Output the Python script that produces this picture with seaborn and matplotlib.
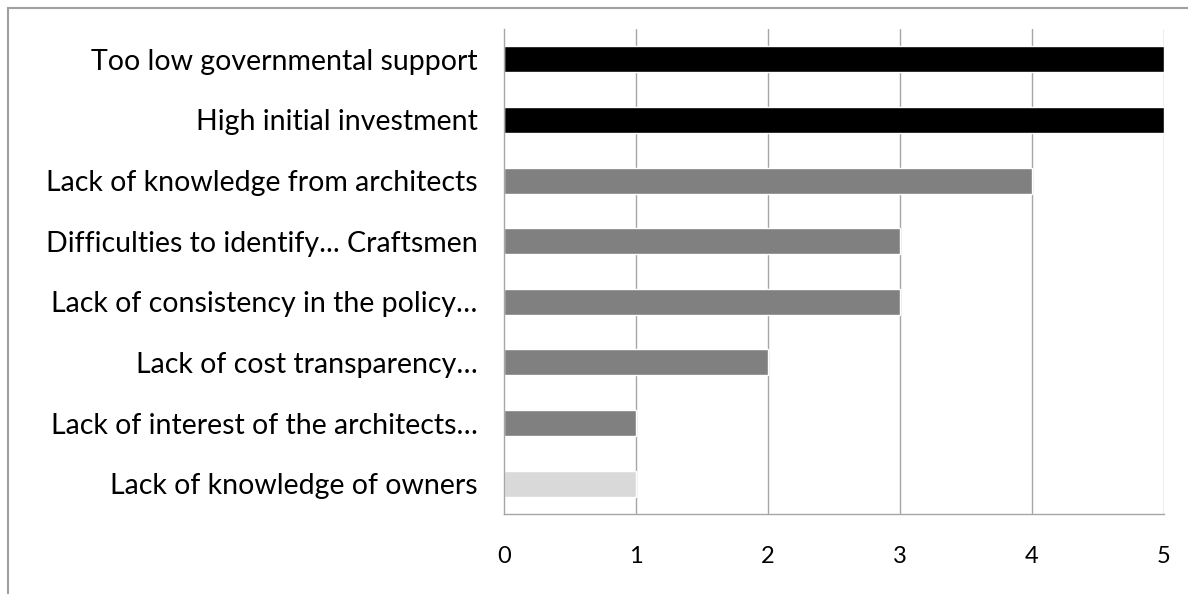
import matplotlib
matplotlib.use("Agg")
import matplotlib.pyplot as plt
import seaborn as sns
import pandas as pd
from matplotlib.patches import Rectangle

categories = [
    "Too low governmental support",
    "High initial investment",
    "Lack of knowledge from architects",
    "Difficulties to identify... Craftsmen",
    "Lack of consistency in the policy…",
    "Lack of cost transparency…",
    "Lack of interest of the architects…",
    "Lack of knowledge of owners",
]
values = [5, 5, 4, 3, 3, 2, 1, 1]
bar_colors = ["#000000", "#000000", "#808080", "#808080",
              "#808080", "#808080", "#808080", "#d9d9d9"]
x_ticks = [0, 1, 2, 3, 4, 5]

sns.set_theme(style="white")
plt.rcParams["font.family"] = ["Lato", "DejaVu Sans"]

df = pd.DataFrame({"category": categories, "value": values})

fig = plt.figure(figsize=(11.88, 5.94), dpi=100)
ax = fig.add_axes([504 / 1188, 1 - 514 / 594, 660 / 1188, 485 / 594])

sns.barplot(data=df, y="category", x="value", hue="category",
            palette=bar_colors, order=categories, hue_order=categories,
            orient="h", width=0.43, legend=False, saturation=1, ax=ax)

ax.set_xlim(0, 5)
ax.set_ylim(len(categories) - 0.5, -0.5)
ax.set_xticks(x_ticks)
ax.set_xticklabels([str(t) for t in x_ticks])
ax.set_xlabel("")
ax.set_ylabel("")

ax.grid(False)
for t in x_ticks[1:]:
    ax.axvline(t, color="#a6a6a6", lw=1, zorder=0)
ax.set_axisbelow(True)

for side in ["top", "right"]:
    ax.spines[side].set_visible(False)
for side in ["left", "bottom"]:
    ax.spines[side].set_color("#a6a6a6")
    ax.spines[side].set_linewidth(1)

ax.tick_params(axis="y", length=0, pad=19, labelsize=20.5, labelcolor="black")
ax.tick_params(axis="x", length=0, pad=23, labelsize=17, labelcolor="black")

# chart frame
fig.patches.append(Rectangle((8 / 1188, -0.1), 1.2, 1 - 8 / 594 + 0.1,
                             transform=fig.transFigure, fill=False,
                             edgecolor="#a0a0a0", lw=1.5))

fig.savefig("out.png", dpi=100)
